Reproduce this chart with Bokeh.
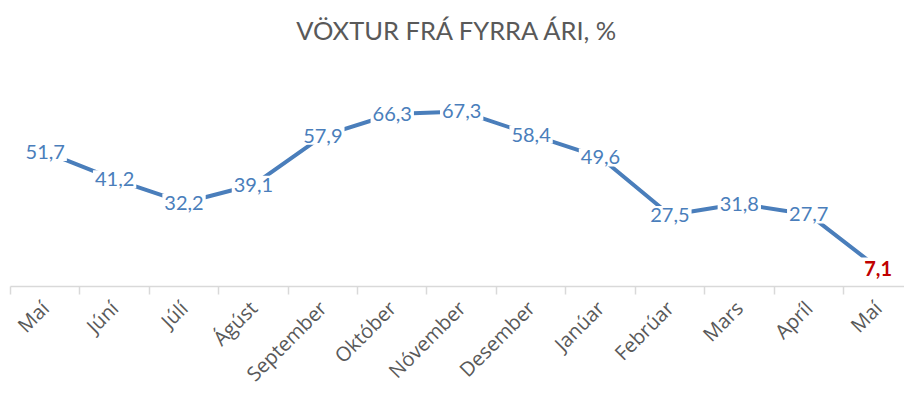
import math
from bokeh.plotting import figure
from bokeh.models import Range1d, FixedTicker, ColumnDataSource
from bokeh.core.properties import value
from bokeh.embed import file_html
from bokeh.resources import INLINE

# ---- data ----
months = ["Maí", "Júní", "Júlí", "Ágúst", "September", "Október", "Nóvember",
          "Desember", "Janúar", "Febrúar", "Mars", "Apríl", "Maí"]
growth = [51.7, 41.2, 32.2, 39.1, 57.9, 66.3, 67.3, 58.4, 49.6, 27.5, 31.8, 27.7, 7.1]
title_text = "VÖXTUR FRÁ FYRRA ÁRI, %"

xs = list(range(len(months)))
labels = [f"{v:.1f}".replace(".", ",") for v in growth]

LINE = "#4A7EBB"
GREY = "#595959"

p = figure(width=904, height=400, output_backend="svg", toolbar_location=None,
           x_range=Range1d(-0.5, 12.38), y_range=Range1d(0, 90.7),
           min_border_left=10, min_border_right=0, min_border_top=50,
           min_border_bottom=114)
p.title.text = title_text
p.title.align = "center"
p.title.text_font = "Lato"
p.title.text_font_size = "25.5px"
p.title.text_font_style = "normal"
p.title.text_color = GREY
p.title.standoff = 12

p.outline_line_color = None
p.xgrid.grid_line_color = None
p.ygrid.grid_line_color = None
p.yaxis.visible = False

ax = p.xaxis[0]
ax.ticker = FixedTicker(ticks=xs, minor_ticks=[i - 0.5 for i in range(len(months) + 1)])
ax.major_label_overrides = {i: m for i, m in enumerate(months)}
ax.major_tick_line_color = None
ax.minor_tick_line_color = "#D9D9D9"
ax.minor_tick_line_width = 1.5
ax.minor_tick_in = 0
ax.minor_tick_out = 8
ax.axis_line_color = "#D9D9D9"
ax.axis_line_width = 1.5
ax.major_label_orientation = math.pi / 4
ax.major_label_text_font = "Open Sans"
ax.major_label_text_font_size = "20px"
ax.major_label_text_color = GREY
ax.major_label_standoff = 10

p.line(xs, growth, line_color=LINE, line_width=4)

src = ColumnDataSource(dict(x=xs[:-1], y=growth[:-1], t=labels[:-1]))
p.text("x", "y", text="t", source=src, text_align="center", text_baseline="middle",
       text_font=value("Lato"), text_font_size="20px", text_color=LINE,
       background_fill_color="white", padding=2)
src2 = ColumnDataSource(dict(x=xs[-1:], y=growth[-1:], t=labels[-1:]))
p.text("x", "y", text="t", source=src2, text_align="center", text_baseline="middle",
       text_font=value("Lato"), text_font_size="20px", text_font_style="bold",
       text_color="#C00000", background_fill_color="white", padding=3)

open("out.html", "w").write(file_html(p, INLINE))
